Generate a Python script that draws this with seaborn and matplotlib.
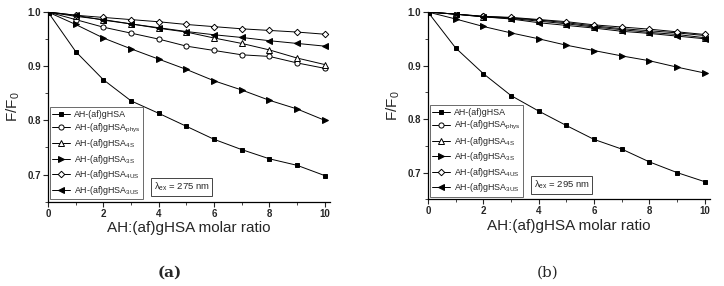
import matplotlib
matplotlib.use("Agg")
import matplotlib.pyplot as plt
import seaborn as sns
import numpy as np
import pandas as pd
from matplotlib.ticker import MultipleLocator

ratio = [0, 1, 2, 3, 4, 5, 6, 7, 8, 9, 10]
labels = ["AH-(af)gHSA", r"AH-(af)gHSA$_{\rm phys}$", r"AH-(af)gHSA$_{\rm 4S}$",
          r"AH-(af)gHSA$_{\rm 3S}$", r"AH-(af)gHSA$_{\rm 4US}$", r"AH-(af)gHSA$_{\rm 3US}$"]

# panel (a), lambda_ex = 275 nm
a_plain = [1.0, 0.927, 0.875, 0.836, 0.813, 0.789, 0.765, 0.746, 0.729, 0.717, 0.698]
a_phys = [1.0, 0.986, 0.972, 0.961, 0.950, 0.937, 0.929, 0.921, 0.918, 0.906, 0.896]
a_4s = [1.0, 0.992, 0.986, 0.978, 0.970, 0.963, 0.952, 0.942, 0.930, 0.915, 0.903]
a_3s = [1.0, 0.977, 0.952, 0.932, 0.913, 0.894, 0.873, 0.856, 0.837, 0.821, 0.800]
a_4us = [1.0, 0.994, 0.990, 0.986, 0.982, 0.977, 0.973, 0.969, 0.966, 0.963, 0.959]
a_3us = [1.0, 0.994, 0.985, 0.978, 0.971, 0.964, 0.958, 0.953, 0.947, 0.942, 0.937]

# panel (b), lambda_ex = 295 nm
b_plain = [1.0, 0.933, 0.885, 0.844, 0.815, 0.788, 0.762, 0.744, 0.720, 0.700, 0.683]
b_phys = [1.0, 0.996, 0.992, 0.989, 0.985, 0.980, 0.974, 0.969, 0.965, 0.961, 0.956]
b_4s = [1.0, 0.996, 0.991, 0.988, 0.983, 0.978, 0.972, 0.967, 0.962, 0.958, 0.952]
b_3s = [1.0, 0.987, 0.973, 0.961, 0.950, 0.938, 0.928, 0.918, 0.909, 0.897, 0.886]
b_4us = [1.0, 0.996, 0.992, 0.990, 0.986, 0.982, 0.976, 0.972, 0.968, 0.963, 0.958]
b_3us = [1.0, 0.996, 0.991, 0.987, 0.980, 0.975, 0.970, 0.964, 0.960, 0.955, 0.950]

markers = ["s", "o", "^", ">", "D", "<"]
filled = [True, False, False, True, False, True]
msizes = [3.4, 3.7, 3.8, 3.8, 3.3, 3.8]

sns.set_style("ticks")
plt.rcParams["font.family"] = ["Liberation Sans", "DejaVu Sans"]
plt.rcParams["mathtext.fontset"] = "custom"
plt.rcParams["mathtext.rm"] = "Liberation Sans"

fig = plt.figure(figsize=(7.24, 2.86), dpi=100)
ax1 = fig.add_axes([0.0663, 0.295, 0.390, 0.663])
ax2 = fig.add_axes([0.591, 0.303, 0.390, 0.655])

panels = [
    (ax1, [a_plain, a_phys, a_4s, a_3s, a_4us, a_3us], "275"),
    (ax2, [b_plain, b_phys, b_4s, b_3s, b_4us, b_3us], "295"),
]

for ax, series, lam in panels:
    for vals, lab, mk, fl, ms in zip(series, labels, markers, filled, msizes):
        df = pd.DataFrame({"x": ratio, "y": vals})
        sns.lineplot(data=df, x="x", y="y", ax=ax, color="black", lw=0.7,
                     marker=mk, markersize=ms, markeredgewidth=0.7,
                     markerfacecolor="black" if fl else "white",
                     markeredgecolor="black", label=lab)
    ax.set_xlim(0, 10.2)
    ax.set_ylim(0.65, 1.0)
    ax.xaxis.set_minor_locator(MultipleLocator(1))
    ax.yaxis.set_minor_locator(MultipleLocator(0.05))
    ax.set_yticks([0.7, 0.8, 0.9, 1.0])
    ax.set_yticklabels(["0.7", "0.8", "0.9", "1.0"])
    ax.set_xticks([0, 2, 4, 6, 8, 10])
    ax.set_xticklabels(["0", "2", "4", "6", "8", "10"])
    ax.tick_params(axis="both", which="major", direction="out", length=3.5, width=0.8,
                   labelsize=7, pad=1.5)
    ax.tick_params(axis="both", which="minor", direction="out", length=2, width=0.6)
    for t in ax.get_xticklabels() + ax.get_yticklabels():
        t.set_fontweight("bold")
    sns.despine(ax=ax)
    for sp in ("left", "bottom"):
        ax.spines[sp].set_linewidth(0.9)
        ax.spines[sp].set_color("black")
    ax.set_xlabel("AH:(af)gHSA molar ratio", fontsize=11, labelpad=2)
    ax.set_ylabel(r"F/F$_{\rm 0}$", fontsize=11, labelpad=4)
    leg = ax.legend(loc="lower left", bbox_to_anchor=(0.006, 0.012), fontsize=6.4,
                    frameon=True, fancybox=False, edgecolor="#444444",
                    handlelength=2.0, handletextpad=0.4, labelspacing=0.28,
                    borderpad=0.3, borderaxespad=0.0)
    leg.get_frame().set_linewidth(0.7)
    ax.text(0.375, 0.045, "λ" + r"$_{\rm ex}$ = " + lam + " nm", transform=ax.transAxes,
            fontsize=6.8, ha="left", va="bottom",
            bbox=dict(boxstyle="square,pad=0.28", fc="white", ec="#444444", lw=0.7))

fig.text(0.235, 0.045, "(a)", fontsize=11, family="DejaVu Serif", weight="bold",
         ha="center", va="center")
fig.text(0.757, 0.045, "(b)", fontsize=11, family="DejaVu Serif",
         ha="center", va="center")

fig.savefig("out.png", dpi=100)
